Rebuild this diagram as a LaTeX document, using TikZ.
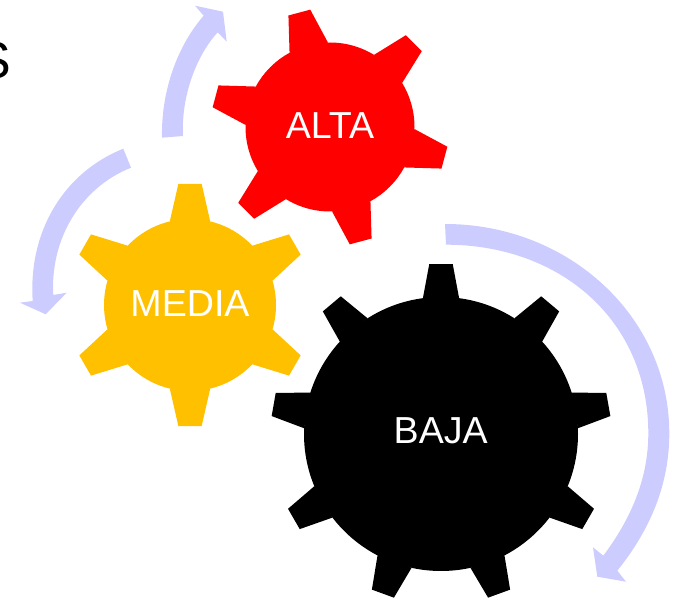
\documentclass[tikz,border=0pt]{standalone}
\usepackage{fontspec}
\setmainfont{Liberation Sans}
\definecolor{flowblue}{HTML}{CCCCFF}
\definecolor{gearyellow}{HTML}{FFC000}
\tikzset
{
	gearlabel/.style = {text=white, inner sep=0pt, font=\fontsize{28.2pt}{32pt}\selectfont},
	titlerest/.style = {text=black, inner sep=0pt, anchor=east, font=\fontsize{39pt}{46pt}\selectfont},
	flowarrow/.style = {fill=flowblue, draw=none}
}
% centre, root radius, tip radius, teeth, first tooth, half root, half tip, colour
\newcommand{\cogwheel}[8]{
	\begin{scope}[shift={(#1)}]
		\fill[#8] (0,0) circle (#2);
		\foreach \k [evaluate=\k as \a using #5+\k*360/#4] in {1,...,#4}
			\fill[#8] (\a-#6:#2) -- (\a-#7:#3) -- (\a+#7:#3) -- (\a+#6:#2) -- cycle;
	\end{scope}
}

\begin{document}
\begin{tikzpicture}[x=0.75pt, y=0.75pt]
\useasboundingbox (0,0) rectangle (675,600);
\clip (0,0) rectangle (675,600);

\node[titlerest] (tail) at (11.5,539) {S};

\cogwheel{330,473}{84.5}{119}{6}{105}{13.6}{5.45}{red}
\cogwheel{190,295}{86}{121.6}{6}{90}{13.6}{5.5}{gearyellow}
\cogwheel{441,166}{137}{170.3}{9}{90}{7.6}{3.95}{black}

\node[gearlabel] (alta) at (330,474.7) {ALTA};
\node[gearlabel] (media) at (190,296) {MEDIA};
\node[gearlabel] (baja) at (440.7,169) {BAJA};

\fill[flowarrow] (162,462.3) .. controls (161,510) and (178,555) .. (203.7,584.3) -- (195,594.3) -- (223,588.3) -- (226.7,558.3) -- (217.7,567.7) .. controls (197,545) and (181,505) .. (183,464) -- cycle;
\fill[flowarrow] (123.3,451.3) .. controls (65,428) and (28,370) .. (32.7,299) -- (20,297.3) -- (45.7,285.7) -- (66.7,307.3) -- (53.3,305) .. controls (50,360) and (80,412) .. (131,432.3) -- cycle;
\fill[flowarrow] (445,376) .. controls (569,376) and (669.3,283) .. (669.3,166.7) .. controls (669.3,115) and (650,70) .. (617.3,29.3) -- (626,18.3) -- (597.3,23.3) -- (593,52.7) -- (603.3,44.3) .. controls (630,80) and (648.3,120) .. (648.3,166.7) .. controls (648.3,280) and (560,355.3) .. (446,355.3) -- cycle;
\end{tikzpicture}
\end{document}
